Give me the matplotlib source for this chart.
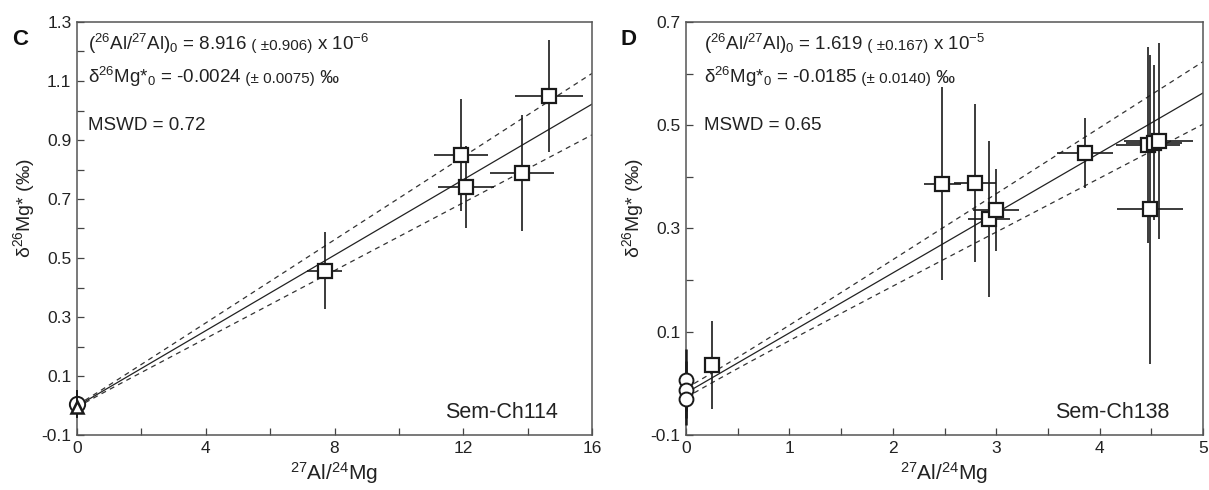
import numpy as np
import matplotlib
matplotlib.use("Agg")
import matplotlib.pyplot as plt
from matplotlib.offsetbox import TextArea, HPacker, AnchoredOffsetbox

plt.rcParams["font.family"] = ["Liberation Sans", "DejaVu Sans"]
plt.rcParams["mathtext.fontset"] = "custom"
plt.rcParams["mathtext.rm"] = "Liberation Sans"
plt.rcParams["mathtext.it"] = "Liberation Sans:italic"
plt.rcParams["mathtext.bf"] = "Liberation Sans:bold"

MG_REF = 0.13932  # (26Mg/24Mg) reference ratio

# ── Panel C : Sem-Ch114 ─────────────────────────────────────────────────────
c_x = [7.70, 11.93, 12.08, 13.83, 14.66]
c_xerr = [0.54, 0.85, 0.87, 1.00, 1.06]
c_y = [0.457, 0.848, 0.741, 0.789, 1.049]
c_yerr = [0.13, 0.19, 0.14, 0.196, 0.19]
c_circ_x = [0.0]
c_circ_y = [0.006]
c_circ_yerr = [0.045]
c_tri_x = [0.0]
c_tri_y = [-0.004]
c_tri_yerr = [0.04]
c_ratio, c_ratio_err = 8.916e-6, 0.906e-6
c_icpt, c_icpt_err = -0.0024, 0.0075
c_mswd = 0.72

# ── Panel D : Sem-Ch138 ─────────────────────────────────────────────────────
d_x = [0.255, 2.48, 2.795, 2.93, 3.00, 3.86, 4.47, 4.53, 4.57, 4.49]
d_xerr = [0.01, 0.18, 0.20, 0.20, 0.22, 0.27, 0.31, 0.27, 0.33, 0.32]
d_y = [0.035, 0.387, 0.389, 0.318, 0.336, 0.446, 0.462, 0.466, 0.469, 0.337]
d_yerr = [0.085, 0.187, 0.153, 0.151, 0.08, 0.068, 0.19, 0.15, 0.19, 0.30]
d_circ_x = [0.0, 0.0, 0.0]
d_circ_y = [0.006, -0.012, -0.030]
d_circ_yerr = [0.06, 0.055, 0.05]
d_ratio, d_ratio_err = 1.619e-5, 0.167e-5
d_icpt, d_icpt_err = -0.0185, 0.0140
d_mswd = 0.65

fig = plt.figure(figsize=(12.09, 4.90), dpi=100)
ax_c = fig.add_axes([77 / 1209, 1 - 435 / 490, 515 / 1209, 413 / 490])
ax_d = fig.add_axes([686 / 1209, 1 - 435 / 490, 517 / 1209, 413 / 490])

INK = "#222222"
BIG = dict(fontsize=13.5, color=INK)
SMALL = dict(fontsize=11, color=INK)


def text_line(ax, parts, x, y):
    kids = [TextArea(s, textprops=(BIG if big else SMALL)) for s, big in parts]
    box = HPacker(children=kids, align="baseline", pad=0, sep=0)
    anc = AnchoredOffsetbox(loc="upper left", child=box, pad=0, borderpad=0,
                            frameon=False, bbox_to_anchor=(x, y),
                            bbox_transform=ax.transAxes)
    ax.add_artist(anc)


def draw_panel(ax, xs, xerr, ys, yerr, ratio, ratio_err, icpt, e0, xmax):
    slope = ratio / MG_REF * 1000
    dslope = ratio_err / MG_REF * 1000
    xx = np.linspace(0, xmax, 200)
    fit = icpt + slope * xx
    band = np.sqrt(e0 ** 2 + (dslope * xx) ** 2)
    ax.plot(xx, fit, color=INK, lw=0.9, zorder=2)
    for sgn in (1, -1):
        ax.plot(xx, fit + sgn * band, color="#333333", lw=0.9,
                dashes=(4, 3.5), zorder=2)
    ax.errorbar(xs, ys, xerr=xerr, yerr=yerr, fmt="s", ms=10, mfc="white",
                mec="#1a1a1a", mew=1.6, ecolor="#1a1a1a", elinewidth=1.2,
                capsize=0, zorder=4)


def style_axes(ax, xlim, ylim, xmajor, xminor, ymajor, yminor):
    ax.set_xlim(*xlim)
    ax.set_ylim(*ylim)
    ax.set_xticks(xmajor)
    ax.set_xticks(xminor, minor=True)
    ax.set_yticks(ymajor)
    ax.set_yticks(yminor, minor=True)
    ax.set_xticklabels(["%d" % v for v in xmajor])
    ax.set_yticklabels(["%.1f" % v for v in ymajor])
    ax.tick_params(which="both", direction="in", length=5, width=0.9,
                   color="#444444", labelsize=12.5, labelcolor=INK, pad=4)
    for sp in ax.spines.values():
        sp.set_color("#555555")
        sp.set_linewidth(1.1)
    ax.set_xlabel(r"$^{27}$Al/$^{24}$Mg", fontsize=15, color=INK, labelpad=3)
    ax.set_ylabel("δ" + r"$^{26}$Mg* (‰)", fontsize=14, color=INK)
    ax.yaxis.set_label_coords(-0.078, 0.55)


# ── Panel C ─────────────────────────────────────────────────────────────────
draw_panel(ax_c, c_x, c_xerr, c_y, c_yerr, c_ratio, c_ratio_err,
           c_icpt, 0.004, 16)
ax_c.errorbar(c_circ_x, c_circ_y, yerr=c_circ_yerr, fmt="o", ms=11,
              mfc="white", mec="#1a1a1a", mew=1.4, ecolor="#1a1a1a",
              elinewidth=1.4, capsize=0, zorder=5, clip_on=False)
ax_c.errorbar(c_tri_x, c_tri_y, yerr=c_tri_yerr, fmt="^", ms=9,
              mfc="white", mec="#1a1a1a", mew=1.8, ecolor="#1a1a1a",
              elinewidth=1.4, capsize=0, zorder=6, clip_on=False)
style_axes(ax_c, (0, 16), (-0.1, 1.3), [0, 4, 8, 12, 16], [2, 6, 10, 14],
           np.arange(-0.1, 1.31, 0.2), np.arange(0.0, 1.21, 0.2))
text_line(ax_c, [(r"($^{26}$Al/$^{27}$Al)$_0$ = 8.916", True),
                 (" ( ±0.906)", False), (r" x 10$^{-6}$", True)],
          0.021, 0.975)
text_line(ax_c, [("δ" + r"$^{26}$Mg*$_0$ = -0.0024", True),
                 (" (± 0.0075)", False), (" ‰", True)], 0.021, 0.895)
text_line(ax_c, [("MSWD = %.2f" % c_mswd, True)], 0.021, 0.77)
ax_c.text(0.934, 0.041, "Sem-Ch114", transform=ax_c.transAxes,
          fontsize=15.5, ha="right", va="baseline", color=INK)
fig.text(12 / 1209, 1 - 45 / 490, "C", fontsize=16, fontweight="bold",
         color="#111111")

# ── Panel D ─────────────────────────────────────────────────────────────────
draw_panel(ax_d, d_x, d_xerr, d_y, d_yerr, d_ratio, d_ratio_err,
           d_icpt, 0.009, 5)
ax_d.errorbar(d_circ_x, d_circ_y, yerr=d_circ_yerr, fmt="o", ms=10,
              mfc="white", mec="#1a1a1a", mew=1.4, ecolor="#1a1a1a",
              elinewidth=1.8, capsize=0, zorder=5, clip_on=False)
style_axes(ax_d, (0, 5), (-0.1, 0.7), [0, 1, 2, 3, 4, 5],
           [0.5, 1.5, 2.5, 3.5, 4.5], np.arange(-0.1, 0.71, 0.2),
           np.arange(0.0, 0.61, 0.2))
text_line(ax_d, [(r"($^{26}$Al/$^{27}$Al)$_0$ = 1.619", True),
                 (" ( ±0.167)", False), (r" x 10$^{-5}$", True)],
          0.035, 0.975)
text_line(ax_d, [("δ" + r"$^{26}$Mg*$_0$ = -0.0185", True),
                 (" (± 0.0140)", False), (" ‰", True)], 0.035, 0.895)
text_line(ax_d, [("MSWD = %.2f" % d_mswd, True)], 0.035, 0.77)
ax_d.text(0.936, 0.041, "Sem-Ch138", transform=ax_d.transAxes,
          fontsize=15.5, ha="right", va="baseline", color=INK)
fig.text(621 / 1209, 1 - 45 / 490, "D", fontsize=16, fontweight="bold",
         color="#111111")

fig.savefig("out.png", dpi=100)
